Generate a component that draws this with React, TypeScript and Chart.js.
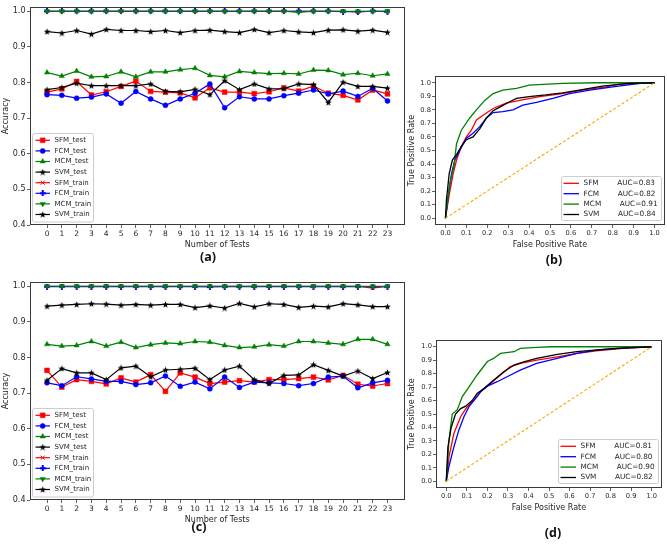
import React, { useEffect, useRef } from "react";
import { Chart, registerables } from "chart.js";
import { drawPoint } from "chart.js/helpers";

Chart.register(...registerables);

const FONT = '"DejaVu Sans", sans-serif';
const TXT = "#262626";
const RED = "#ff0000";
const BLUE = "#0000ff";
const GREEN = "#008000";
const BLACK = "#000000";
const ORANGE = "#ffa500";

// ---------- categories / ticks ----------
const tests = [0, 1, 2, 3, 4, 5, 6, 7, 8, 9, 10, 11, 12, 13, 14, 15, 16, 17, 18, 19, 20, 21, 22, 23];
const accTicks = [0.4, 0.5, 0.6, 0.7, 0.8, 0.9, 1.0];
const rateTicks = [0, 0.1, 0.2, 0.3, 0.4, 0.5, 0.6, 0.7, 0.8, 0.9, 1.0];
const modelNames = ["SFM", "FCM", "MCM", "SVM"];

// ---------- panel (a) ----------
const sfmTestA = [0.773, 0.782, 0.803, 0.765, 0.774, 0.789, 0.804, 0.775, 0.773, 0.771, 0.757, 0.785, 0.773, 0.773, 0.769, 0.774, 0.785, 0.776, 0.790, 0.770, 0.764, 0.751, 0.779, 0.768];
const fcmTestA = [0.766, 0.764, 0.756, 0.759, 0.768, 0.742, 0.775, 0.754, 0.736, 0.754, 0.770, 0.796, 0.729, 0.760, 0.754, 0.754, 0.763, 0.770, 0.779, 0.768, 0.776, 0.761, 0.784, 0.748];
const mcmTestA = [0.828, 0.818, 0.832, 0.816, 0.817, 0.830, 0.816, 0.830, 0.830, 0.836, 0.840, 0.820, 0.816, 0.831, 0.828, 0.825, 0.826, 0.824, 0.835, 0.834, 0.822, 0.826, 0.819, 0.824];
const svmTestA = [0.780, 0.786, 0.798, 0.791, 0.791, 0.791, 0.791, 0.796, 0.775, 0.774, 0.781, 0.766, 0.805, 0.780, 0.796, 0.782, 0.783, 0.796, 0.794, 0.744, 0.801, 0.789, 0.789, 0.784];
const sfmTrainA = [1, 1, 1, 1, 1, 1, 1, 1, 1, 1, 1, 1, 1, 1, 1, 1, 1, 1, 1, 1, 1, 0.998, 1, 1];
const fcmTrainA = [1, 1, 1, 1, 1, 1, 1, 1, 1, 1, 1, 1, 1, 1, 1, 1, 1, 1, 1, 1, 0.999, 0.999, 1, 0.999];
const mcmTrainA = [1, 1, 1, 1, 1, 1, 1, 1, 1, 1, 1, 1, 1, 1, 1, 1, 1, 0.997, 1, 1, 1, 1, 1, 1];
const svmTrainA = [0.943, 0.939, 0.946, 0.936, 0.949, 0.946, 0.946, 0.943, 0.946, 0.940, 0.946, 0.947, 0.943, 0.940, 0.949, 0.940, 0.946, 0.942, 0.940, 0.947, 0.948, 0.944, 0.947, 0.941];

// ---------- panel (c) ----------
const sfmTestC = [0.764, 0.717, 0.738, 0.733, 0.726, 0.743, 0.731, 0.752, 0.705, 0.757, 0.745, 0.727, 0.731, 0.735, 0.731, 0.738, 0.738, 0.741, 0.745, 0.737, 0.750, 0.725, 0.720, 0.727];
const fcmTestC = [0.729, 0.721, 0.746, 0.740, 0.733, 0.733, 0.724, 0.729, 0.748, 0.719, 0.731, 0.712, 0.745, 0.716, 0.731, 0.729, 0.727, 0.721, 0.727, 0.745, 0.748, 0.715, 0.729, 0.736];
const mcmTestC = [0.837, 0.832, 0.834, 0.845, 0.832, 0.843, 0.828, 0.836, 0.841, 0.839, 0.845, 0.843, 0.834, 0.828, 0.830, 0.836, 0.832, 0.845, 0.845, 0.841, 0.837, 0.851, 0.851, 0.837];
const svmTestC = [0.736, 0.769, 0.757, 0.757, 0.738, 0.771, 0.776, 0.746, 0.765, 0.767, 0.770, 0.738, 0.765, 0.776, 0.738, 0.727, 0.750, 0.751, 0.780, 0.764, 0.748, 0.762, 0.741, 0.758];
const sfmTrainC = [1, 1, 1, 1, 1, 1, 1, 1, 1, 1, 1, 1, 1, 1, 1, 1, 1, 1, 1, 1, 1, 1, 0.995, 1];
const fcmTrainC = [0.999, 0.999, 0.999, 0.999, 0.999, 0.999, 0.999, 0.999, 0.999, 0.999, 0.999, 0.998, 0.999, 0.999, 0.999, 0.999, 0.999, 0.999, 0.999, 0.999, 0.999, 0.999, 0.999, 0.999];
const mcmTrainC = [1, 1, 1, 1, 1, 1, 1, 1, 1, 1, 1, 1, 1, 1, 1, 1, 1, 1, 1, 1, 1, 1, 1, 1];
const svmTrainC = [0.944, 0.947, 0.949, 0.951, 0.950, 0.947, 0.949, 0.947, 0.949, 0.949, 0.940, 0.945, 0.939, 0.952, 0.942, 0.951, 0.949, 0.941, 0.944, 0.942, 0.951, 0.948, 0.943, 0.943];

// ---------- panel (b) ROC ----------
const sfmFprB = [0, 0.02, 0.037, 0.053, 0.076, 0.1, 0.124, 0.148, 0.18, 0.228, 0.29, 0.355, 0.45, 0.56, 0.67, 0.77, 0.83, 1.0];
const sfmTprB = [0, 0.19, 0.33, 0.43, 0.53, 0.6, 0.65, 0.725, 0.76, 0.81, 0.85, 0.87, 0.897, 0.92, 0.95, 0.97, 0.99, 1.0];
const fcmFprB = [0, 0.013, 0.029, 0.045, 0.068, 0.1, 0.132, 0.164, 0.196, 0.228, 0.275, 0.323, 0.37, 0.435, 0.514, 0.594, 0.69, 0.8, 0.93, 1.0];
const fcmTprB = [0, 0.16, 0.33, 0.43, 0.5, 0.59, 0.627, 0.676, 0.74, 0.78, 0.787, 0.8, 0.835, 0.855, 0.885, 0.92, 0.946, 0.97, 0.995, 1.0];
const mcmFprB = [0, 0.02, 0.04, 0.053, 0.076, 0.116, 0.148, 0.188, 0.228, 0.275, 0.34, 0.4, 0.56, 0.72, 1.0];
const mcmTprB = [0, 0.25, 0.38, 0.55, 0.65, 0.74, 0.8, 0.87, 0.92, 0.946, 0.958, 0.983, 0.995, 1.0, 1.0];
const svmFprB = [0, 0.005, 0.018, 0.033, 0.053, 0.076, 0.1, 0.132, 0.164, 0.196, 0.228, 0.26, 0.307, 0.34, 0.4, 0.48, 0.56, 0.64, 0.75, 0.88, 1.0];
const svmTprB = [0, 0.14, 0.33, 0.43, 0.47, 0.53, 0.58, 0.6, 0.66, 0.74, 0.794, 0.82, 0.86, 0.885, 0.897, 0.91, 0.926, 0.946, 0.975, 0.995, 1.0];
const aucB = [0.83, 0.82, 0.91, 0.84];

// ---------- panel (d) ROC ----------
const sfmFprD = [0, 0.013, 0.037, 0.07, 0.1, 0.134, 0.167, 0.215, 0.264, 0.31, 0.36, 0.44, 0.54, 0.636, 0.73, 0.86, 1.0];
const sfmTprD = [0, 0.18, 0.355, 0.48, 0.55, 0.6, 0.665, 0.727, 0.79, 0.85, 0.876, 0.9, 0.925, 0.95, 0.97, 0.988, 1.0];
const fcmFprD = [0, 0.013, 0.037, 0.061, 0.086, 0.11, 0.134, 0.167, 0.2, 0.248, 0.296, 0.36, 0.44, 0.54, 0.636, 0.73, 0.83, 1.0];
const fcmTprD = [0, 0.11, 0.255, 0.38, 0.48, 0.553, 0.6, 0.665, 0.707, 0.74, 0.777, 0.826, 0.876, 0.913, 0.95, 0.975, 0.988, 1.0];
const mcmFprD = [0, 0.013, 0.029, 0.053, 0.078, 0.11, 0.15, 0.175, 0.2, 0.23, 0.264, 0.33, 0.36, 0.44, 0.51, 1.0];
const mcmTprD = [0, 0.3, 0.5, 0.53, 0.63, 0.7, 0.79, 0.84, 0.89, 0.913, 0.95, 0.963, 0.988, 0.995, 1.0, 1.0];
const svmFprD = [0, 0.008, 0.024, 0.045, 0.07, 0.094, 0.126, 0.15, 0.183, 0.23, 0.28, 0.33, 0.377, 0.44, 0.54, 0.636, 0.765, 0.895, 1.0];
const svmTprD = [0, 0.255, 0.4, 0.5, 0.54, 0.558, 0.6, 0.653, 0.69, 0.75, 0.814, 0.864, 0.888, 0.913, 0.943, 0.963, 0.98, 0.993, 1.0];
const aucD = [0.81, 0.8, 0.9, 0.82];

const chanceLine = [0, 1];

// ---------- marker images ----------
function starImage(color: string, size: number): HTMLCanvasElement {
  const c = document.createElement("canvas");
  c.width = size;
  c.height = size;
  const ctx = c.getContext("2d")!;
  ctx.fillStyle = color;
  const cx = size / 2, cy = size / 2 + 0.3, R = size / 2, r = R * 0.42;
  ctx.beginPath();
  for (let i = 0; i < 10; i++) {
    const a = -Math.PI / 2 + (i * Math.PI) / 5;
    const rad = i % 2 === 0 ? R : r;
    ctx.lineTo(cx + rad * Math.cos(a), cy + rad * Math.sin(a));
  }
  ctx.closePath();
  ctx.fill();
  return c;
}
function plusImage(color: string, size: number): HTMLCanvasElement {
  const c = document.createElement("canvas");
  c.width = size;
  c.height = size;
  const ctx = c.getContext("2d")!;
  ctx.fillStyle = color;
  const t = size / 3;
  ctx.fillRect(t, 0, t, size);
  ctx.fillRect(0, t, size, t);
  return c;
}

const STAR = starImage(BLACK, 7);
const PLUS = plusImage(BLUE, 6);

type SeriesDef = { label: string; color: string; style: any; radius: number; rotation?: number; border?: number };
const accSeriesDefs: SeriesDef[] = [
  { label: "SFM_test", color: RED, style: "rect", radius: 3.4 },
  { label: "FCM_test", color: BLUE, style: "circle", radius: 2.5 },
  { label: "MCM_test", color: GREEN, style: "triangle", radius: 3 },
  { label: "SVM_test", color: BLACK, style: STAR, radius: 3 },
  { label: "SFM_train", color: RED, style: "crossRot", radius: 2.8, border: 1 },
  { label: "FCM_train", color: BLUE, style: PLUS, radius: 3 },
  { label: "MCM_train", color: GREEN, style: "triangle", radius: 3, rotation: 180 },
  { label: "SVM_train", color: BLACK, style: STAR, radius: 3 },
];
const rocColors = [RED, BLUE, GREEN, BLACK];

// ---------- helpers ----------
function roundedBox(ctx: CanvasRenderingContext2D, x: number, y: number, w: number, h: number, r: number) {
  ctx.beginPath();
  ctx.moveTo(x + r, y);
  ctx.lineTo(x + w - r, y);
  ctx.quadraticCurveTo(x + w, y, x + w, y + r);
  ctx.lineTo(x + w, y + h - r);
  ctx.quadraticCurveTo(x + w, y + h, x + w - r, y + h);
  ctx.lineTo(x + r, y + h);
  ctx.quadraticCurveTo(x, y + h, x, y + h - r);
  ctx.lineTo(x, y + r);
  ctx.quadraticCurveTo(x, y, x + r, y);
  ctx.closePath();
  ctx.fillStyle = "rgba(255,255,255,0.85)";
  ctx.fill();
  ctx.strokeStyle = "#cccccc";
  ctx.lineWidth = 1;
  ctx.stroke();
}

function drawFrame(ctx: CanvasRenderingContext2D, ca: any) {
  ctx.strokeStyle = "#3a3a3a";
  ctx.lineWidth = 1;
  const l = Math.round(ca.left) + 0.5, t = Math.round(ca.top) + 0.5;
  const r = Math.round(ca.right) - 0.5, b = Math.round(ca.bottom) - 0.5;
  ctx.strokeRect(l, t, r - l, b - t);
}

function accDeco() {
  return {
    id: "accDeco",
    afterDraw(chart: any) {
      const { ctx, chartArea: ca } = chart;
      ctx.save();
      drawFrame(ctx, ca);
      const left = Math.round(ca.left) + 2.5;
      const w = 61, h = 88.5;
      const top = Math.round(ca.bottom) - 3 - h;
      roundedBox(ctx, left, top, w, h, 2);
      accSeriesDefs.forEach((s, i) => {
        const y = top + 6.8 + i * 10.6;
        ctx.strokeStyle = s.color;
        ctx.lineWidth = 1.2;
        ctx.beginPath();
        ctx.moveTo(left + 3, y);
        ctx.lineTo(left + 17.5, y);
        ctx.stroke();
        ctx.fillStyle = s.color;
        ctx.lineWidth = s.border || 0.5;
        drawPoint(ctx, { pointStyle: s.style, radius: s.radius, rotation: s.rotation || 0, borderWidth: s.border || 0.5 } as any, left + 10.2, y);
        ctx.fillStyle = TXT;
        ctx.font = `7px ${FONT}`;
        ctx.textBaseline = "middle";
        ctx.textAlign = "left";
        ctx.fillText(s.label, left + 22, y);
      });
      ctx.restore();
    },
  };
}

function rocDeco(aucs: number[]) {
  return {
    id: "rocDeco",
    afterDraw(chart: any) {
      const { ctx, chartArea: ca } = chart;
      ctx.save();
      drawFrame(ctx, ca);
      const w = 100, h = 44;
      const left = Math.round(ca.right) - 4 - w + 0.5;
      const top = Math.round(ca.bottom) - 5 - h + 0.5;
      roundedBox(ctx, left, top, w, h, 2);
      modelNames.forEach((name, i) => {
        const y = top + 6.8 + i * 10.4;
        ctx.strokeStyle = rocColors[i];
        ctx.lineWidth = 1.3;
        ctx.beginPath();
        ctx.moveTo(left + 2, y);
        ctx.lineTo(left + 17.5, y);
        ctx.stroke();
        ctx.fillStyle = TXT;
        ctx.font = `7.3px ${FONT}`;
        ctx.textBaseline = "middle";
        ctx.textAlign = "left";
        ctx.fillText(`${name}        AUC=${aucs[i].toFixed(2)}`, left + 22, y);
      });
      ctx.restore();
    },
  };
}

function axisGrid() {
  return { display: true, drawOnChartArea: false, drawTicks: true, tickLength: 3, color: "#3a3a3a", lineWidth: 0.8 };
}

function accConfig(series: number[][]): any {
  return {
    type: "line",
    data: {
      datasets: accSeriesDefs.map((s, i) => ({
        label: s.label,
        data: tests.map((t, j) => ({ x: t, y: series[i][j] })),
        borderColor: s.color,
        backgroundColor: s.color,
        borderWidth: 1.2,
        pointStyle: s.style,
        pointRadius: s.radius,
        pointRotation: s.rotation || 0,
        pointBorderWidth: s.border || 0.5,
        pointBorderColor: s.color,
        pointBackgroundColor: s.color,
        tension: 0,
        order: -i,
      })),
    },
    options: {
      responsive: false,
      animation: false,
      events: [],
      layout: { padding: { left: 0, top: 7, right: 5.5, bottom: 0 } },
      plugins: { legend: { display: false }, tooltip: { enabled: false } },
      scales: {
        x: {
          type: "linear",
          min: -1.15,
          max: 24.15,
          afterBuildTicks: (sc: any) => { sc.ticks = tests.map((v) => ({ value: v })); },
          afterFit: (sc: any) => { sc.height = 37; },
          ticks: { autoSkip: false, maxRotation: 0, padding: 1.5, color: TXT, font: { family: FONT, size: 7.5 }, callback: (v: any) => String(v) },
          grid: axisGrid(),
          border: { display: false },
          title: { display: true, text: "Number of Tests", color: TXT, font: { family: FONT, size: 8 }, padding: { top: 0, bottom: 12.5 } },
        },
        y: {
          type: "linear",
          min: 0.4,
          max: 1.012,
          afterBuildTicks: (sc: any) => { sc.ticks = accTicks.map((v) => ({ value: v })); },
          afterFit: (sc: any) => { sc.width = 30; },
          ticks: { padding: 1.5, color: TXT, font: { family: FONT, size: 8 }, callback: (v: any) => Number(v).toFixed(1) },
          grid: axisGrid(),
          border: { display: false },
          title: { display: true, text: "Accuracy", color: TXT, font: { family: FONT, size: 8 }, padding: { top: 1.2, bottom: 0 } },
        },
      },
    },
    plugins: [accDeco()],
  };
}

function rocConfig(fprs: number[][], tprs: number[][], aucs: number[], pad: any, yTitlePad: number): any {
  const datasets: any[] = modelNames.map((name, i) => ({
    label: name,
    data: fprs[i].map((x, j) => ({ x, y: tprs[i][j] })),
    borderColor: rocColors[i],
    backgroundColor: rocColors[i],
    borderWidth: 1.3,
    pointRadius: 0,
    tension: 0,
    order: -i,
  }));
  datasets.push({
    label: "chance",
    data: chanceLine.map((v) => ({ x: v, y: v })),
    borderColor: ORANGE,
    borderWidth: 1.1,
    borderDash: [3, 2],
    pointRadius: 0,
    order: -10,
  });
  return {
    type: "line",
    data: { datasets },
    options: {
      responsive: false,
      animation: false,
      events: [],
      layout: { padding: pad },
      plugins: { legend: { display: false }, tooltip: { enabled: false } },
      scales: {
        x: {
          type: "linear",
          min: -0.05,
          max: 1.05,
          afterBuildTicks: (sc: any) => { sc.ticks = rateTicks.map((v) => ({ value: v })); },
          afterFit: (sc: any) => { sc.height = 37; },
          ticks: { autoSkip: false, maxRotation: 0, padding: 1.5, color: TXT, font: { family: FONT, size: 6.7 }, callback: (v: any) => Number(v).toFixed(1) },
          grid: axisGrid(),
          border: { display: false },
          title: { display: true, text: "False Positive Rate", color: TXT, font: { family: FONT, size: 8 }, padding: { top: 0, bottom: 12.5 } },
        },
        y: {
          type: "linear",
          min: -0.05,
          max: 1.05,
          afterBuildTicks: (sc: any) => { sc.ticks = rateTicks.map((v) => ({ value: v })); },
          afterFit: (sc: any) => { sc.width = 30; },
          ticks: { padding: 1, color: TXT, font: { family: FONT, size: 6.7 }, callback: (v: any) => Number(v).toFixed(1) },
          grid: axisGrid(),
          border: { display: false },
          title: { display: true, text: "True Positive Rate", color: TXT, font: { family: FONT, size: 8 }, padding: { top: yTitlePad, bottom: 0 } },
        },
      },
    },
    plugins: [rocDeco(aucs)],
  };
}

function ChartBox(props: { left: number; top: number; width: number; height: number; build: () => any }) {
  const ref = useRef<HTMLCanvasElement>(null);
  useEffect(() => {
    const chart = new Chart(ref.current as HTMLCanvasElement, props.build());
    return () => chart.destroy();
  }, []);
  return (
    <canvas
      ref={ref}
      width={props.width}
      height={props.height}
      style={{ position: "absolute", left: props.left, top: props.top, width: props.width, height: props.height }}
    />
  );
}

function PanelLabel(props: { text: string; cx: number; cy: number }) {
  return (
    <div
      style={{
        position: "absolute",
        left: props.cx - 20,
        top: props.cy - 8,
        width: 40,
        height: 16,
        lineHeight: "16px",
        textAlign: "center",
        fontFamily: '"Open Sans", "Liberation Sans", sans-serif',
        fontWeight: 700,
        fontSize: 12.5,
        color: "#111",
      }}
    >
      {props.text}
    </div>
  );
}

export default function App() {
  return (
    <div style={{ position: "absolute", left: 0, top: 0, width: 667, height: 544, background: "#ffffff", overflow: "hidden" }}>
      <ChartBox
        left={0}
        top={0}
        width={410}
        height={262}
        build={() => accConfig([sfmTestA, fcmTestA, mcmTestA, svmTestA, sfmTrainA, fcmTrainA, mcmTrainA, svmTrainA])}
      />
      <ChartBox
        left={0}
        top={275}
        width={410}
        height={262}
        build={() => accConfig([sfmTestC, fcmTestC, mcmTestC, svmTestC, sfmTrainC, fcmTrainC, mcmTrainC, svmTrainC])}
      />
      <ChartBox
        left={405}
        top={60}
        width={262}
        height={202}
        build={() =>
          rocConfig([sfmFprB, fcmFprB, mcmFprB, svmFprB], [sfmTprB, fcmTprB, mcmTprB, svmTprB], aucB, { left: 0, top: 16, right: 2, bottom: 0 }, 2.2)
        }
      />
      <ChartBox
        left={406}
        top={330}
        width={261}
        height={195}
        build={() =>
          rocConfig([sfmFprD, fcmFprD, mcmFprD, svmFprD], [sfmTprD, fcmTprD, mcmTprD, svmTprD], aucD, { left: 0, top: 10, right: 5, bottom: 0 }, 1)
        }
      />
      <PanelLabel text="(a)" cx={208} cy={257} />
      <PanelLabel text="(b)" cx={554} cy={260} />
      <PanelLabel text="(c)" cx={199} cy={527} />
      <PanelLabel text="(d)" cx={553} cy={533} />
    </div>
  );
}
